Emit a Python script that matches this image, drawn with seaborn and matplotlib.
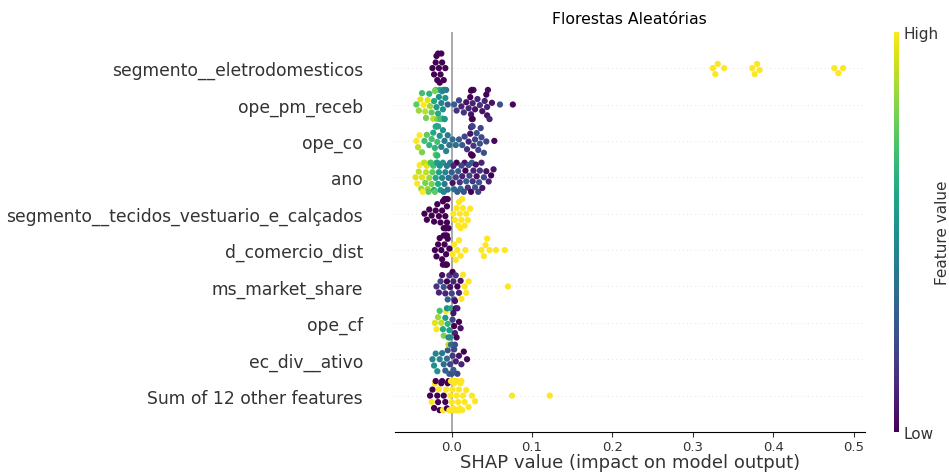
import warnings
import pandas as pd
import numpy as np
import matplotlib
matplotlib.use('Agg')
import matplotlib.pyplot as plt
import seaborn as sns

warnings.filterwarnings('ignore')

plt.rcParams['font.family'] = ['DejaVu Sans']

# ===== data (SHAP value, feature value) =====
features = [
    'segmento__eletrodomesticos', 'ope_pm_receb', 'ope_co', 'ano',
    'segmento__tecidos_vestuario_e_calçados', 'd_comercio_dist',
    'ms_market_share', 'ope_cf', 'ec_div__ativo', 'Sum of 12 other features',
]

eletro_shap = [-0.024, -0.022, -0.020, -0.019, -0.018, -0.017, -0.016, -0.015,
               -0.014, -0.013, -0.012, -0.010, -0.008,
               0.325, 0.328, 0.331, 0.339, 0.374, 0.377, 0.380, 0.383, 0.476, 0.481, 0.487]
eletro_val = [0.0] * 13 + [1.0] * 11

receb_shap = [-0.044, -0.041, -0.039, -0.037, -0.035, -0.033, -0.032, -0.030, -0.028, -0.027,
              -0.025, -0.023, -0.022, -0.020, -0.019, -0.018, -0.016, -0.015, -0.013, -0.012,
              -0.011, -0.010, -0.009, -0.008, -0.007, -0.005, 0.003,
              0.006, 0.009, 0.012, 0.015, 0.018, 0.021, 0.023, 0.024, 0.025, 0.026,
              0.027, 0.029, 0.032, 0.035, 0.038, 0.041, 0.043, 0.044, 0.045, 0.047,
              0.050, 0.060, 0.076,
              -0.021, -0.017, -0.014, -0.012, -0.010, -0.009,
              0.024, 0.025, 0.026, 0.044]
receb_val = [0.75, 0.85, 0.95, 0.7, 1.0, 0.9, 0.8, 0.95, 0.65, 0.85,
             0.75, 0.9, 0.6, 0.7, 0.55, 0.8, 0.5, 0.6, 0.45, 0.65,
             0.5, 0.55, 0.45, 0.5, 0.4, 0.3, 0.3,
             0.15, 0.2, 0.1, 0.15, 0.05, 0.1, 0.0, 0.05, 0.0, 0.1,
             0.02, 0.05, 0.1, 0.15, 0.05, 0.1, 0.0, 0.05, 0.02, 0.1,
             0.05, 0.25, 0.02,
             0.8, 0.6, 0.7, 0.5, 0.45, 0.55,
             0.0, 0.05, 0.0, 0.1]

co_shap = [-0.044, -0.042, -0.040, -0.037, -0.034, -0.031, -0.028, -0.025, -0.023, -0.021,
           -0.020, -0.019, -0.018, -0.017, -0.015, -0.013, -0.011, -0.009, -0.007, -0.005,
           -0.003, 0.001, 0.005, 0.009, 0.013,
           0.016, 0.019, 0.021, 0.023, 0.024, 0.025, 0.026, 0.027, 0.029, 0.031,
           0.033, 0.035, 0.037, 0.040, 0.043, 0.053,
           -0.020, -0.019, -0.018, 0.024, 0.025, 0.026, 0.036]
co_val = [1.0, 0.9, 1.0, 0.8, 0.7, 0.75, 0.65, 0.7, 0.6, 0.65,
          0.8, 0.55, 0.7, 0.6, 0.5, 0.45, 0.5, 0.4, 0.45, 0.4,
          0.38, 0.35, 0.35, 0.3, 0.28,
          0.2, 0.15, 0.1, 0.05, 0.0, 0.1, 0.02, 0.15, 0.2, 0.25,
          0.2, 0.25, 0.22, 0.25, 0.2, 0.02,
          0.6, 0.75, 0.65, 0.1, 0.0, 0.2, 0.2]

ano_shap = [-0.045, -0.043, -0.041, -0.040, -0.038, -0.037, -0.035, -0.034, -0.033, -0.031,
            -0.030, -0.029, -0.027, -0.026, -0.025,
            -0.023, -0.022, -0.021, -0.019, -0.018, -0.017, -0.015, -0.014, -0.012, -0.011,
            -0.009, -0.008, -0.006, -0.004, -0.002,
            0.000, 0.001, 0.003, 0.005, 0.006, 0.008, 0.010, 0.011, 0.013, 0.015,
            0.016, 0.018, 0.020, 0.022, 0.024, 0.025, 0.027, 0.029, 0.031, 0.033,
            0.035, 0.037, 0.040, 0.043, 0.046, 0.049, 0.052,
            -0.036, -0.032, -0.028, -0.024, -0.020, -0.016, -0.010, -0.005,
            0.002, 0.007, 0.012, 0.017, 0.021, 0.026, 0.030, 0.034, 0.038]
ano_val = [0.95, 1.0, 0.9, 1.0, 0.85, 0.95, 1.0, 0.9, 0.8, 0.95,
           0.85, 0.75, 0.9, 0.7, 0.8,
           0.7, 0.6, 0.75, 0.65, 0.55, 0.6, 0.5, 0.55, 0.45, 0.5,
           0.4, 0.45, 0.4, 0.35, 0.4,
           0.3, 0.05, 0.35, 0.2, 0.0, 0.3, 0.15, 0.35, 0.1, 0.25,
           0.05, 0.3, 0.15, 0.2, 0.0, 0.3, 0.1, 0.25, 0.05, 0.2,
           0.15, 0.1, 0.2, 0.05, 0.1, 0.0, 0.05,
           1.0, 0.9, 0.85, 0.75, 0.6, 0.55, 0.45, 0.4,
           0.1, 0.3, 0.2, 0.0, 0.25, 0.15, 0.05, 0.25, 0.05]

tecidos_shap = [-0.034, -0.031, -0.028, -0.025, -0.022, -0.020, -0.018, -0.016, -0.014,
                -0.012, -0.011, -0.010, -0.009, -0.008, -0.007, -0.006, -0.004,
                -0.008, -0.007, -0.006, -0.005,
                0.002, 0.004, 0.006, 0.008, 0.009, 0.010, 0.011, 0.012, 0.013,
                0.014, 0.016, 0.018, 0.020, 0.023]
tecidos_val = [0.0] * 21 + [1.0] * 14

comercio_shap = [-0.021, -0.019, -0.017, -0.015, -0.013, -0.012, -0.011, -0.010, -0.009,
                 -0.008, -0.007, -0.006, -0.005, -0.003, -0.008, -0.007, -0.006,
                 0.001, 0.003, 0.005, 0.007, 0.009, 0.011, 0.017, 0.037, 0.040, 0.042,
                 0.044, 0.047, 0.055, 0.066]
comercio_val = [0.0] * 17 + [1.0] * 14

market_shap = [-0.019, -0.016, -0.014, -0.012, -0.010, -0.008, -0.006, -0.005, -0.003, -0.002,
               0.000, 0.001, 0.002, 0.003, 0.004, 0.005, 0.007, 0.009, 0.011,
               0.012, 0.014, 0.016, 0.018, 0.021, 0.070]
market_val = [0.15, 0.1, 0.2, 0.05, 0.25, 0.1, 0.0, 0.3, 0.15, 0.05,
              0.2, 0.0, 0.1, 0.25, 0.05, 0.15, 0.0, 0.1, 0.05,
              1.0, 1.0, 1.0, 1.0, 1.0, 1.0]

cf_shap = [-0.021, -0.019, -0.017, -0.015, -0.013, -0.011, -0.010, -0.008, -0.007, -0.006,
           -0.005, -0.004, -0.003, -0.002, -0.001, 0.001, 0.002, 0.003, 0.004, 0.005,
           0.006, 0.007, 0.009, 0.011]
cf_val = [0.95, 1.0, 0.85, 0.7, 0.9, 0.6, 0.8, 0.55, 1.0, 0.5,
          0.65, 0.45, 0.55, 0.5, 0.6, 0.2, 0.05, 0.0, 0.1, 0.02,
          0.0, 0.08, 0.0, 0.05]

ativo_shap = [-0.024, -0.022, -0.020, -0.018, -0.015, -0.012, -0.010, -0.008, -0.006, -0.005,
              -0.004, -0.003, -0.002, -0.001, 0.000, 0.001, 0.002, 0.003, 0.004, 0.005,
              0.007, 0.009, 0.012, 0.015, 0.019]
ativo_val = [0.45, 0.5, 0.45, 0.5, 0.45, 0.4, 0.35, 0.3, 0.35, 0.25,
             0.9, 0.3, 0.2, 0.35, 0.25, 0.15, 0.3, 0.2, 0.25, 0.1,
             0.2, 0.05, 0.1, 0.0, 0.02]

other_shap = [-0.027, -0.025, -0.024, -0.022, -0.021, -0.020, -0.018, -0.017, -0.016, -0.015,
              -0.013, -0.012, -0.011, -0.010, -0.008, -0.007, -0.006, -0.005, -0.004, -0.003,
              -0.002, -0.001, 0.000, 0.001, 0.002, 0.003, 0.004, 0.005, 0.006, 0.007,
              0.008, 0.009, 0.010, 0.012, 0.014, 0.016, 0.018, 0.021, 0.025, 0.029,
              0.075, 0.122,
              0.001, 0.003, 0.005, 0.007, 0.009, 0.011, 0.013, 0.002, 0.006]
other_val = [0.0, 1.0, 0.0, 0.0, 1.0, 0.0, 0.0, 0.0, 1.0, 0.0,
             0.0, 0.0, 1.0, 0.0, 0.0, 1.0, 0.0, 0.0, 0.0, 1.0] + [1.0] * 31

shap_lists = [eletro_shap, receb_shap, co_shap, ano_shap, tecidos_shap,
              comercio_shap, market_shap, cf_shap, ativo_shap, other_shap]
val_lists = [eletro_val, receb_val, co_val, ano_val, tecidos_val,
             comercio_val, market_val, cf_val, ativo_val, other_val]

rows = []
for name, sv, fv in zip(features, shap_lists, val_lists):
    for s, v in zip(sv, fv):
        rows.append({'feature': name, 'shap': s, 'value': v})
df = pd.DataFrame(rows)

# ===== figure =====
fig = plt.figure(figsize=(9.49, 4.77), dpi=100)
ax = fig.add_axes([0.416, 0.0922, 0.495, 0.8392])

for i in range(len(features)):
    ax.axhline(i, color='#cccccc', lw=0.5, dashes=(1, 5), zorder=-1)
ax.axvline(0, color='#999999', lw=1.2, zorder=-1)

sns.swarmplot(data=df, x='shap', y='feature', hue='value', order=features,
              palette='viridis', hue_norm=(0, 1), size=4.5, linewidth=0,
              legend=False, ax=ax)

ax.set_xlim(-0.0709, 0.5137)
ax.set_ylim(len(features), -1)
ax.set_xticks([0.0, 0.1, 0.2, 0.3, 0.4, 0.5])
ax.set_xticklabels(['0.0', '0.1', '0.2', '0.3', '0.4', '0.5'])
ax.set_xlabel('SHAP value (impact on model output)', fontsize=13, color='#333333', labelpad=0)
ax.set_ylabel('')
ax.set_title('Florestas Aleatórias', fontsize=11.3)
for side in ['top', 'right', 'left']:
    ax.spines[side].set_visible(False)
ax.tick_params(axis='y', length=0, pad=23, labelsize=12.3, labelcolor='#333333')
ax.tick_params(axis='x', labelsize=9.5, pad=2.5, color='#333333', labelcolor='#333333')

# colorbar
cax = fig.add_axes([0.942, 0.0922, 0.0053, 0.8392])
sm = plt.cm.ScalarMappable(cmap='viridis', norm=plt.Normalize(0, 1))
cb = fig.colorbar(sm, cax=cax, ticks=[0, 1])
cb.set_ticklabels(['Low', 'High'])
cb.set_label('Feature value', size=11, labelpad=-3, color='#333333')
cb.ax.tick_params(labelsize=11, length=0, labelcolor='#333333')
cb.outline.set_visible(False)

fig.savefig('out.png', dpi=100)
plt.close()
